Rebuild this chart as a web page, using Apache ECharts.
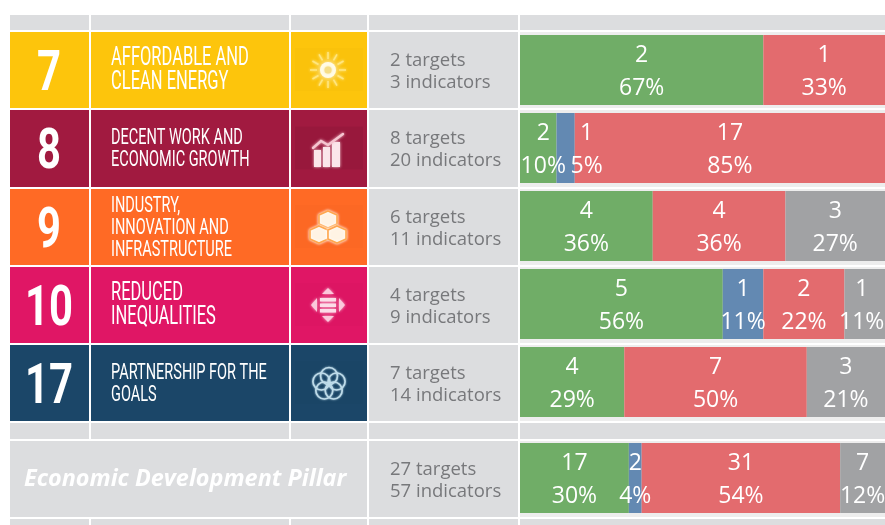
<!DOCTYPE html>
<html>
<head>
<meta charset="UTF-8" />
<title>SDG indicators - Economic Development Pillar</title>
<style>
html, body { margin: 0; padding: 0; background: #fff; }
#chart { width: 885px; height: 525px; }
</style>
</head>
<body>
<div id="chart"></div>
<script src="https://cdn.jsdelivr.net/npm/echarts@6/dist/echarts.min.js"></script>
<script>
// last entry of each count list is the pillar row
const goalNumbers = ['7', '8', '9', '10', '17'];
const goalTitles = [
	'AFFORDABLE AND\nCLEAN ENERGY',
	'DECENT WORK AND\nECONOMIC GROWTH',
	'INDUSTRY,\nINNOVATION AND\nINFRASTRUCTURE',
	'REDUCED\nINEQUALITIES',
	'PARTNERSHIP FOR THE\nGOALS'
];
const pillarTitle = 'Economic Development Pillar';
const targets = [2, 8, 6, 4, 7, 27];
const indicators = [3, 20, 11, 9, 14, 57];
const greenCounts = [2, 2, 4, 5, 4, 17];
const blueCounts = [0, 1, 0, 1, 0, 2];
const redCounts = [1, 17, 4, 2, 7, 31];
const greyCounts = [0, 0, 3, 1, 3, 7];

const goalColors = ['#FDC50C', '#A11A40', '#FF6A25', '#E01665', '#1B4668'];
const titleSizes = [25, 22, 22, 25, 22];
const titleLines = [24, 22, 22, 24, 22];
const CELL = '#DCDDDF', BAND = '#EDEDED', GREY_TEXT = '#77787B';
const NARROW = 'Roboto, sans-serif';
const BODY = '"Open Sans", sans-serif';

const colEdges = [[10, 89], [91, 289], [291, 367], [369, 518], [520, 885]];
const rowEdges = [[32, 108], [110, 187], [189, 265], [267, 343], [345, 421]];

function rect(x0, x1, y0, y1, fill, opacity) {
	return { type: 'rect', shape: { x: x0, y: y0, width: x1 - x0, height: y1 - y0 }, style: { fill: fill, opacity: opacity == null ? 1 : opacity }, silent: true };
}
function text(x, y, str, font, fill, align, extra) {
	return Object.assign({ type: 'text', x: x, y: y, silent: true, style: Object.assign({ text: str, font: font, fill: fill, align: align || 'left', verticalAlign: 'middle' }, extra || {}) });
}

// table background
const cells = [];
[[15, 30], [423, 439], [519, 525]].forEach(function(r) {
	colEdges.forEach(function(c) { cells.push(rect(c[0], c[1], r[0], r[1], CELL)); });
});
rowEdges.forEach(function(r, i) {
	colEdges.slice(0, 3).forEach(function(c) { cells.push(rect(c[0], c[1], r[0], r[1], goalColors[i])); });
	cells.push(rect(369, 518, r[0], r[1], CELL));
	cells.push(rect(520, 885, r[0], r[1], BAND));
	cells.push(rect(295, 363, (r[0] + r[1]) / 2 - 22, (r[0] + r[1]) / 2 + 21, '#000', i === 1 ? 0.05 : 0.012));
});
cells.push(rect(10, 367, 441, 517, CELL));
cells.push(rect(369, 518, 441, 517, CELL));
cells.push(rect(520, 885, 441, 517, BAND));

// texts
const texts = [];
goalNumbers.forEach(function(n, i) {
	const r = rowEdges[i];
	const mid = (r[0] + r[1]) / 2;
	const num = text(49, mid + 6, n, 'bold 55px ' + NARROW, '#fff', 'center');
	num.scaleX = 0.76;
	texts.push(num);
	const t = text(111, mid + 1, goalTitles[i], titleSizes[i] + 'px ' + NARROW, '#fff');
	t.style.lineHeight = titleLines[i];
	t.scaleX = 0.66;
	texts.push(t);
});
targets.forEach(function(t, i) {
	const mid = i < 5 ? (rowEdges[i][0] + rowEdges[i][1]) / 2 : 479;
	const el = text(390, mid + 1.5, t + ' targets\n' + indicators[i] + ' indicators', '18.5px ' + BODY, GREY_TEXT);
	el.style.lineHeight = 22;
	texts.push(el);
});
const pillarText = text(24, 479, pillarTitle, 'italic bold 24px ' + BODY, '#fff', 'left', { shadowBlur: 2, shadowColor: 'rgba(255,255,255,0.6)' });
pillarText.scaleX = 0.975;
texts.push(pillarText);

// blurry goal icons
function glow(c) { return { stroke: c, fill: null, lineWidth: 2.4, shadowBlur: 3, shadowColor: c, lineCap: 'round' }; }
function solid(c) { return { fill: c, shadowBlur: 3, shadowColor: c }; }
function icon(x, y, children) { return { type: 'group', x: x, y: y, silent: true, children: children }; }

const sun = [
	{ type: 'circle', shape: { cx: 0, cy: 0, r: 8 }, style: { fill: '#FFFBE6', shadowBlur: 6, shadowColor: '#FFF' } },
	{ type: 'circle', shape: { cx: 0, cy: 0, r: 3.5 }, style: { fill: '#F5DD86', shadowBlur: 2, shadowColor: '#F5DD86' } }
];
[0, 30, 60, 90, 120, 150, 180, 210, 240, 270, 300, 330].forEach(function(a) {
	const s = Math.sin(a * Math.PI / 180), c = Math.cos(a * Math.PI / 180);
	sun.push({ type: 'line', shape: { x1: 11 * c, y1: 11 * s, x2: 18 * c, y2: 18 * s }, style: { stroke: '#FFE680', lineWidth: 1.5, shadowBlur: 3, shadowColor: '#FFF3B5' } });
});
const growth = [
	{ type: 'rect', shape: { x: -14, y: 0, width: 7, height: 17 }, style: solid('#FBE6EA') },
	{ type: 'rect', shape: { x: -5, y: -3, width: 7, height: 20 }, style: solid('#FBE6EA') },
	{ type: 'rect', shape: { x: 4, y: -8, width: 8, height: 25 }, style: solid('#FBE6EA') },
	{ type: 'polyline', shape: { points: [[-15, -2], [-7, -9], [0, -5], [15, -16]] }, style: glow('#F6C5D0') }
];
const cubes = [];
[[0, -9], [-9, 6], [9, 6]].forEach(function(p) {
	cubes.push({ type: 'polygon', shape: { points: [[p[0], p[1] - 8], [p[0] + 9, p[1] - 4], [p[0] + 9, p[1] + 5], [p[0], p[1] + 9], [p[0] - 9, p[1] + 5], [p[0] - 9, p[1] - 4]] }, style: { fill: '#FFF3E4', stroke: '#FFA64D', lineWidth: 1.6, shadowBlur: 3, shadowColor: '#FFF' } });
});
const arrows = [
	{ type: 'rect', shape: { x: -8, y: -7, width: 16, height: 3.5 }, style: solid('#FCDDE8') },
	{ type: 'rect', shape: { x: -8, y: -1.5, width: 16, height: 3.5 }, style: solid('#FCDDE8') },
	{ type: 'rect', shape: { x: -8, y: 4, width: 16, height: 3.5 }, style: solid('#FCDDE8') },
	{ type: 'polygon', shape: { points: [[0, -17], [6, -11], [-6, -11]] }, style: solid('#FBC8DB') },
	{ type: 'polygon', shape: { points: [[0, 17], [6, 11], [-6, 11]] }, style: solid('#FBC8DB') },
	{ type: 'polygon', shape: { points: [[-17, 0], [-11, -7], [-11, 7]] }, style: solid('#FBC8DB') },
	{ type: 'polygon', shape: { points: [[17, 0], [11, -7], [11, 7]] }, style: solid('#FBC8DB') }
];
const flower = [];
[-90, -18, 54, 126, 198].forEach(function(a) {
	flower.push({ type: 'circle', shape: { cx: 8 * Math.cos(a * Math.PI / 180), cy: 8 * Math.sin(a * Math.PI / 180), r: 8.5 }, style: { fill: null, stroke: '#BFDCEA', lineWidth: 1.6, shadowBlur: 2, shadowColor: '#BFDCEA' } });
});
const icons = [icon(328, 70, sun), icon(328, 150, growth), icon(328, 228, cubes), icon(328, 305, arrows), icon(329, 384, flower)];

// bars: shares of each row's indicators, labels carry count and percent
const kinds = [
	{ name: 'green', counts: greenCounts, color: '#70AD67' },
	{ name: 'blue', counts: blueCounts, color: '#6389B2' },
	{ name: 'red', counts: redCounts, color: '#E36B6E' },
	{ name: 'grey', counts: greyCounts, color: '#A1A2A4' }
];
// hand moved labels in the original
const nudges = { green1: 5, blue1: 21, grey3: -3 };

function rowTotal(i) { return greenCounts[i] + blueCounts[i] + redCounts[i] + greyCounts[i]; }
function makeData(kind, from, to) {
	const out = [];
	for (let i = from; i < to; i++) {
		const c = kind.counts[i];
		out.push({
			value: c ? c / rowTotal(i) : null,
			count: c,
			label: { show: !!c, offset: [nudges[kind.name + i] || 0, 1.5] }
		});
	}
	return out;
}
const series = [];
[[0, 0, 5], [1, 5, 6]].forEach(function(g) {
	kinds.forEach(function(k) {
		series.push({
			type: 'bar', name: k.name, stack: 'g' + g[0], xAxisIndex: g[0], yAxisIndex: g[0],
			barWidth: 70, itemStyle: { color: k.color }, silent: true,
			label: {
				show: true, position: 'inside', color: '#fff', fontFamily: BODY, fontSize: 23, lineHeight: 33,
				formatter: function(p) { return p.data.count + '\n' + Math.round(p.value * 100) + '%'; }
			},
			data: makeData(k, g[1], g[2])
		});
	});
});

const chart = echarts.init(document.getElementById('chart'), null, { renderer: 'canvas' });
chart.setOption({
	animation: false,
	grid: [
		{ left: 520, width: 365, top: 31, height: 390 },
		{ left: 520, width: 365, top: 439, height: 78 }
	],
	xAxis: [0, 1].map(function(i) { return { type: 'value', gridIndex: i, min: 0, max: 1, show: false }; }),
	yAxis: [
		{ type: 'category', gridIndex: 0, inverse: true, show: false, data: goalNumbers },
		{ type: 'category', gridIndex: 1, inverse: true, show: false, data: ['Pillar'] }
	],
	graphic: { elements: cells.concat(texts, icons) },
	series: series
});
</script>
</body>
</html>
